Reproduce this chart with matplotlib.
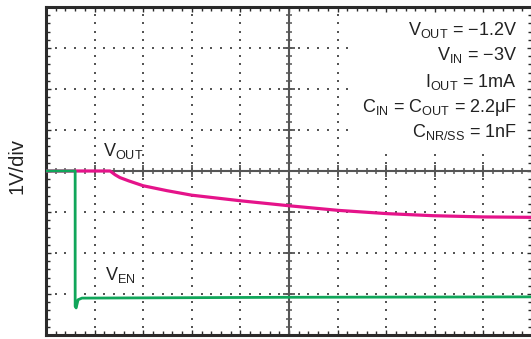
import numpy as np
import matplotlib
matplotlib.use("Agg")
import matplotlib.pyplot as plt
from matplotlib.ticker import MultipleLocator
from matplotlib.patches import Rectangle

plt.rcParams['font.family'] = ['Liberation Sans', 'DejaVu Sans']
plt.rcParams['mathtext.fontset'] = 'custom'
plt.rcParams['mathtext.rm'] = 'Liberation Sans'
plt.rcParams['mathtext.it'] = 'Liberation Sans'
plt.rcParams['mathtext.default'] = 'rm'

# ---- data (divisions on a 10 x 8 scope screen) ----
t_out = [0, 1.32, 1.42, 1.52, 1.70, 2.00, 2.49, 3.00, 4.03, 5.02, 6.01, 7.02, 7.96, 8.99, 10.0]
v_out = [4.0, 4.0, 3.91, 3.84, 3.76, 3.64, 3.52, 3.41, 3.27, 3.15, 3.04, 2.96, 2.91, 2.88, 2.87]

t_en = [0, 0.60, 0.60, 0.62, 0.66, 0.74, 5.0, 10.0]
v_en = [4.0, 4.0, 0.70, 0.66, 0.86, 0.90, 0.92, 0.93]

annotations = [r"V$_{\mathrm{OUT}}$ = −1.2V",
               r"V$_{\mathrm{IN}}$ = −3V",
               r"I$_{\mathrm{OUT}}$ = 1mA",
               r"C$_{\mathrm{IN}}$ = C$_{\mathrm{OUT}}$ = 2.2μF",
               r"C$_{\mathrm{NR/SS}}$ = 1nF"]
ylabel = "1V/div"
label_out = r"V$_{\mathrm{OUT}}$"
label_en = r"V$_{\mathrm{EN}}$"

W, H = 531, 339
fig = plt.figure(figsize=(W / 100, H / 100), dpi=100)
ax = fig.add_axes([46 / W, (H - 335) / H, 486 / W, (335 - 7) / H])
ax.set_xlim(0, 10)
ax.set_ylim(0, 8)

border = '#2b2b2b'
for s in ax.spines.values():
    s.set_linewidth(2.2)
    s.set_color(border)

ax.xaxis.set_major_locator(MultipleLocator(1))
ax.xaxis.set_minor_locator(MultipleLocator(0.2))
ax.yaxis.set_major_locator(MultipleLocator(1))
ax.yaxis.set_minor_locator(MultipleLocator(0.2))
ax.tick_params(which='both', direction='in', top=True, right=True,
               labelbottom=False, labelleft=False, color=border, width=1.0)
ax.tick_params(which='major', length=3.8)
ax.tick_params(which='minor', length=2.6)

# dotted graticule
gx = np.arange(0, 10.001, 0.2)
gy = np.arange(0, 8.001, 0.2)
for xv in range(1, 10):
    if xv == 5:
        continue
    ax.scatter(np.full_like(gy, xv), gy, s=1.1, marker='s', color='#555555',
               linewidths=0, zorder=1)
for yv in range(1, 8):
    if yv == 4:
        continue
    ax.scatter(gx, np.full_like(gx, yv), s=1.1, marker='s', color='#555555',
               linewidths=0, zorder=1)

# white box behind the conditions text
ax.add_patch(Rectangle((6.23, 4.5), 3.65, 3.38, facecolor='white',
                       edgecolor='none', zorder=1.5))

# center axes with ticks
cc = '#555555'
ax.axhline(4, color=cc, lw=1.5, zorder=2)
ax.axvline(5, color=cc, lw=1.5, zorder=2)
ax.plot(gx, np.full_like(gx, 4), ls='none', marker='|', ms=3.8, mew=1.1, color=cc, zorder=2)
ax.plot(np.full_like(gy, 5), gy, ls='none', marker='_', ms=3.8, mew=1.1, color=cc, zorder=2)
mx = np.arange(0, 11, 1.0)
my = np.arange(0, 9, 1.0)
ax.plot(mx, np.full_like(mx, 4), ls='none', marker='|', ms=8.5, mew=1.3, color=cc, zorder=2)
ax.plot(np.full_like(my, 5), my, ls='none', marker='_', ms=8.5, mew=1.3, color=cc, zorder=2)

# traces
ax.plot(t_out, v_out, color='#E5138A', lw=2.3, zorder=4, solid_capstyle='butt')
ax.plot(t_en, v_en, color='#10A65A', lw=2.0, zorder=5, solid_joinstyle='round')

# labels
ax.text(1.17, 4.37, label_out, fontsize=13, color='#222222', va='baseline', ha='left', zorder=6)
ax.text(1.21, 1.34, label_en, fontsize=13, color='#222222', va='baseline', ha='left', zorder=6)

ys = [7.32, 6.71, 6.06, 5.45, 4.84]
for txt, yv in zip(annotations, ys):
    ax.text(9.69, yv, txt, fontsize=13, color='#222222', ha='right', va='baseline', zorder=6)

fig.text(17 / W, 1 - 166 / H, ylabel, rotation=90, fontsize=14.5, color='#222222',
         ha='center', va='center')

fig.savefig('out.png', dpi=100)
